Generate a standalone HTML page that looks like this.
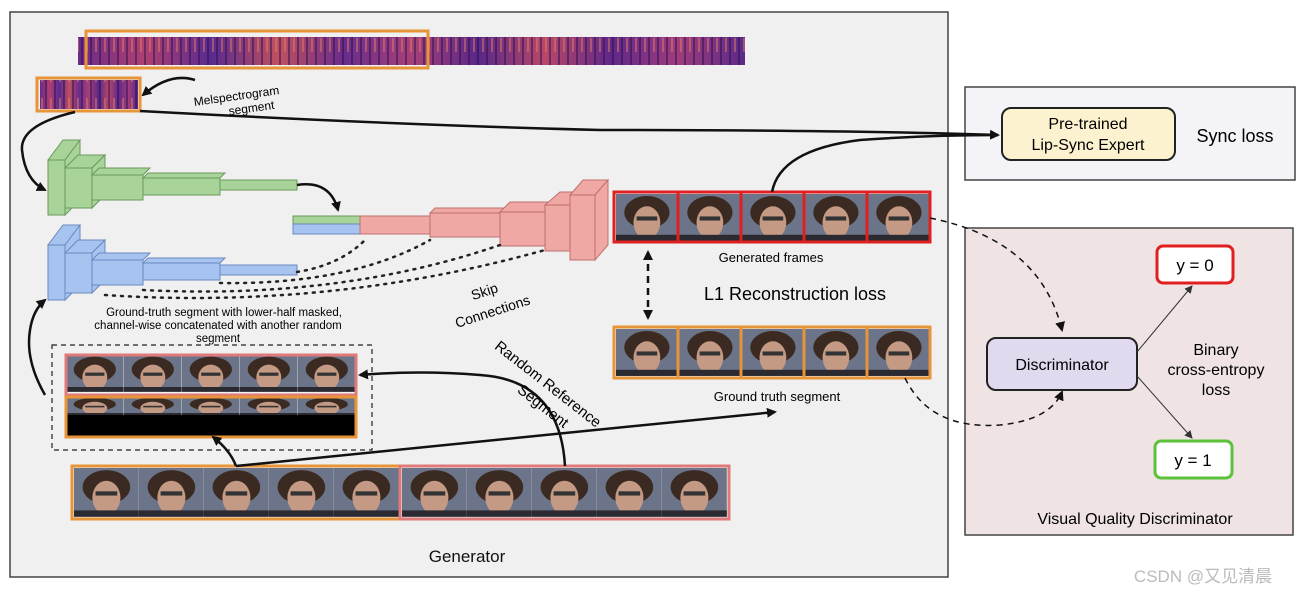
<!DOCTYPE html>
<html><head><meta charset="utf-8"><style>
body{margin:0;background:#fff;}
svg{display:block;font-family:"Liberation Sans",sans-serif;}
</style></head><body>
<svg width="1307" height="597" viewBox="0 0 1307 597" xmlns="http://www.w3.org/2000/svg">
<defs>
<linearGradient id="mel" x1="0" x2="1" y1="0" y2="0">
<stop offset="0" stop-color="#6a2a8a"/><stop offset="0.1" stop-color="#b04070"/><stop offset="0.2" stop-color="#5a2a90"/><stop offset="0.3" stop-color="#c05060"/><stop offset="0.4" stop-color="#6a2c8c"/><stop offset="0.5" stop-color="#a84078"/><stop offset="0.6" stop-color="#5a2888"/><stop offset="0.7" stop-color="#b84868"/><stop offset="0.8" stop-color="#60288a"/><stop offset="0.9" stop-color="#a03c7c"/><stop offset="1" stop-color="#5a2a8a"/>
</linearGradient>
<pattern id="stripes" width="9" height="30" patternUnits="userSpaceOnUse">
<rect x="0" y="0" width="2" height="30" fill="#2a1050" opacity="0.5"/><rect x="5" y="8" width="2" height="14" fill="#e08060" opacity="0.5"/>
</pattern>
<g id="face">
<rect width="60" height="46" fill="#6b7488"/>
<ellipse cx="30" cy="18" rx="22" ry="16" fill="#3b2a22"/>
<ellipse cx="30" cy="28" rx="13" ry="16" fill="#c49a84"/>
<rect x="20" y="22" width="20" height="4" fill="#333"/>
<rect x="0" y="40" width="60" height="6" fill="#2a2a30"/>
</g>
<marker id="ah" markerWidth="10" markerHeight="10" refX="8" refY="5" orient="auto" markerUnits="userSpaceOnUse"><path d="M0,0 L10,5 L0,10 z" fill="#111"/></marker>
<marker id="ahs" markerWidth="8" markerHeight="8" refX="7" refY="4" orient="auto" markerUnits="userSpaceOnUse"><path d="M0,0 L8,4 L0,8 z" fill="#333"/></marker>
<marker id="ahb" markerWidth="10" markerHeight="10" refX="2" refY="5" orient="auto" markerUnits="userSpaceOnUse"><path d="M10,0 L0,5 L10,10 z" fill="#111"/></marker>
</defs>

<!-- panels -->
<rect x="10" y="12" width="938" height="565" fill="#f0f0f0" stroke="#444" stroke-width="1.5"/>
<rect x="965" y="87" width="330" height="93" fill="#f3f3f8" stroke="#444" stroke-width="1.5"/>
<rect x="965" y="228" width="328" height="307" fill="#efe3e3" stroke="#444" stroke-width="1.5"/>

<!-- mel -->
<rect x="78" y="37" width="667" height="28" fill="url(#mel)"/>
<rect x="78" y="37" width="667" height="28" fill="url(#stripes)"/>
<rect x="86" y="31" width="342" height="37" fill="none" stroke="#e8953a" stroke-width="3"/>
<rect x="40" y="80" width="98" height="29" fill="url(#mel)"/>
<rect x="40" y="80" width="98" height="29" fill="url(#stripes)"/>
<rect x="37" y="78" width="103" height="33" fill="none" stroke="#e8953a" stroke-width="3"/>
<path d="M195,80 Q170,72 143,95" fill="none" stroke="#111" stroke-width="2.5" marker-end="url(#ah)"/>
<text x="237" y="100" font-size="12" text-anchor="middle" transform="rotate(-8 237 100)">Melspectrogram</text>
<text x="252" y="112" font-size="12" text-anchor="middle" transform="rotate(-8 252 112)">segment</text>
<path d="M140,111 Q400,125 600,130 Q850,130 998,135" fill="none" stroke="#111" stroke-width="2.5" marker-end="url(#ah)"/>
<path d="M75,112 Q20,125 22,150 Q25,180 45,190" fill="none" stroke="#111" stroke-width="2.5" marker-end="url(#ah)"/>

<!-- green encoder -->
<g fill="#a8d49a" stroke="#6a9a5a" stroke-width="1">
<polygon points="48,160 65,160 80,140 63,140"/><polygon points="65,160 80,140 80,200 65,215"/><rect x="48" y="160" width="17" height="55"/>
<polygon points="65,168 92,168 105,155 78,155"/><polygon points="92,168 105,155 105,195 92,208"/><rect x="65" y="168" width="27" height="40"/>
<polygon points="92,175 143,175 150,168 99,168"/><rect x="92" y="175" width="51" height="25"/>
<polygon points="143,178 220,178 225,173 148,173"/><rect x="143" y="178" width="77" height="17"/>
<rect x="220" y="180" width="77" height="10"/>
</g>
<g fill="#a7c4f0" stroke="#6a88c0" stroke-width="1">
<polygon points="48,245 65,245 80,225 63,225"/><polygon points="65,245 80,225 80,285 65,300"/><rect x="48" y="245" width="17" height="55"/>
<polygon points="65,253 92,253 105,240 78,240"/><polygon points="92,253 105,240 105,280 92,293"/><rect x="65" y="253" width="27" height="40"/>
<polygon points="92,260 143,260 150,253 99,253"/><rect x="92" y="260" width="51" height="25"/>
<polygon points="143,263 220,263 225,258 148,258"/><rect x="143" y="263" width="77" height="17"/>
<rect x="220" y="265" width="77" height="10"/>
</g>
<!-- decoder -->
<rect x="293" y="216" width="67" height="8" fill="#a8d49a" stroke="#6a9a5a"/>
<rect x="293" y="224" width="67" height="10" fill="#a7c4f0" stroke="#6a88c0"/>
<g fill="#f0a8a4" stroke="#c07070" stroke-width="1">
<rect x="360" y="216" width="70" height="18"/>
<polygon points="430,213 500,213 505,208 435,208"/><rect x="430" y="213" width="70" height="24"/>
<polygon points="500,212 545,212 555,202 510,202"/><polygon points="545,212 555,202 555,236 545,246"/><rect x="500" y="212" width="45" height="34"/>
<polygon points="545,205 570,205 585,192 560,192"/><polygon points="570,205 585,192 585,238 570,251"/><rect x="545" y="205" width="25" height="46"/>
<polygon points="570,195 595,195 608,180 583,180"/><polygon points="595,195 608,180 608,245 595,260"/><rect x="570" y="195" width="25" height="65"/>
</g>
<path d="M297,185 Q330,180 338,210" fill="none" stroke="#111" stroke-width="2.5" marker-end="url(#ah)"/>
<g fill="none" stroke="#222" stroke-width="2.5" stroke-dasharray="2,6" stroke-linecap="round">
<path d="M297,272 Q340,265 365,240"/><path d="M220,283 Q350,285 430,240"/><path d="M143,290 Q340,300 500,245"/><path d="M105,295 Q330,310 545,250"/>
</g>
<text x="486" y="296" font-size="14" text-anchor="middle" transform="rotate(-18 486 296)">Skip</text>
<text x="494" y="316" font-size="14" text-anchor="middle" transform="rotate(-18 494 316)">Connections</text>
<text x="224" y="316" font-size="11.5" text-anchor="middle">Ground-truth segment with lower-half masked,</text>
<text x="218" y="329" font-size="11.5" text-anchor="middle">channel-wise concatenated with another random</text>
<text x="218" y="342" font-size="11.5" text-anchor="middle">segment</text>

<!-- dashed box -->
<rect x="52" y="345" width="320" height="105" fill="none" stroke="#222" stroke-width="1.2" stroke-dasharray="5,4"/>
<g>
<use href="#face" transform="translate(66,355) scale(0.96,0.8)"/><use href="#face" transform="translate(124,355) scale(0.96,0.8)"/><use href="#face" transform="translate(182,355) scale(0.96,0.8)"/><use href="#face" transform="translate(240,355) scale(0.96,0.8)"/><use href="#face" transform="translate(298,355) scale(0.96,0.8)"/>
</g>
<rect x="66" y="355" width="290" height="40" fill="none" stroke="#e07a7a" stroke-width="3"/>
<g>
<use href="#face" transform="translate(66,397) scale(0.96,0.4)"/><use href="#face" transform="translate(124,397) scale(0.96,0.4)"/><use href="#face" transform="translate(182,397) scale(0.96,0.4)"/><use href="#face" transform="translate(240,397) scale(0.96,0.4)"/><use href="#face" transform="translate(298,397) scale(0.96,0.4)"/>
</g>
<rect x="66" y="415" width="290" height="22" fill="#000"/>
<rect x="66" y="397" width="290" height="40" fill="none" stroke="#e8953a" stroke-width="3"/>
<path d="M45,395 Q25,360 30,330 Q33,310 45,300" fill="none" stroke="#111" stroke-width="2.5" marker-end="url(#ah)"/>

<!-- bottom frames -->
<g>
<use href="#face" transform="translate(74,468) scale(1.08,1.06)"/><use href="#face" transform="translate(139,468) scale(1.08,1.06)"/><use href="#face" transform="translate(204,468) scale(1.08,1.06)"/><use href="#face" transform="translate(269,468) scale(1.08,1.06)"/><use href="#face" transform="translate(334,468) scale(1.08,1.06)"/>
<use href="#face" transform="translate(402,468) scale(1.08,1.06)"/><use href="#face" transform="translate(467,468) scale(1.08,1.06)"/><use href="#face" transform="translate(532,468) scale(1.08,1.06)"/><use href="#face" transform="translate(597,468) scale(1.08,1.06)"/><use href="#face" transform="translate(662,468) scale(1.08,1.06)"/>
</g>
<rect x="72" y="466" width="328" height="53" fill="none" stroke="#e8953a" stroke-width="3"/>
<rect x="400" y="466" width="329" height="53" fill="none" stroke="#e07a7a" stroke-width="3"/>
<path d="M236,466 Q230,450 213,437" fill="none" stroke="#111" stroke-width="2.5" marker-end="url(#ah)"/>
<path d="M236,466 Q500,440 775,412" fill="none" stroke="#111" stroke-width="2.5" marker-end="url(#ah)"/>
<path d="M565,466 Q560,380 480,375 Q420,370 360,375" fill="none" stroke="#111" stroke-width="2.5" marker-end="url(#ah)"/>
<text x="545" y="388" font-size="15" text-anchor="middle" transform="rotate(38 545 388)">Random Reference</text>
<text x="540" y="410" font-size="15" text-anchor="middle" transform="rotate(38 540 410)">Segment</text>
<text x="467" y="562" font-size="17" text-anchor="middle" fill="#111">Generator</text>

<!-- generated frames -->
<g>
<use href="#face" transform="translate(616,194) scale(1.03,1.02)"/><use href="#face" transform="translate(679,194) scale(1.03,1.02)"/><use href="#face" transform="translate(742,194) scale(1.03,1.02)"/><use href="#face" transform="translate(805,194) scale(1.03,1.02)"/><use href="#face" transform="translate(868,194) scale(1.03,1.02)"/>
</g>
<g fill="none" stroke="#e02020" stroke-width="3"><rect x="614" y="192" width="316" height="50"/><line x1="678" y1="192" x2="678" y2="242"/><line x1="741" y1="192" x2="741" y2="242"/><line x1="804" y1="192" x2="804" y2="242"/><line x1="867" y1="192" x2="867" y2="242"/></g>
<text x="771" y="262" font-size="13" text-anchor="middle">Generated frames</text>
<text x="795" y="300" font-size="18" text-anchor="middle">L1 Reconstruction loss</text>
<g>
<use href="#face" transform="translate(616,329) scale(1.03,1.02)"/><use href="#face" transform="translate(679,329) scale(1.03,1.02)"/><use href="#face" transform="translate(742,329) scale(1.03,1.02)"/><use href="#face" transform="translate(805,329) scale(1.03,1.02)"/><use href="#face" transform="translate(868,329) scale(1.03,1.02)"/>
</g>
<g fill="none" stroke="#e8953a" stroke-width="3"><rect x="614" y="327" width="316" height="51"/><line x1="678" y1="327" x2="678" y2="378"/><line x1="741" y1="327" x2="741" y2="378"/><line x1="804" y1="327" x2="804" y2="378"/><line x1="867" y1="327" x2="867" y2="378"/></g>
<text x="777" y="401" font-size="13" text-anchor="middle">Ground truth segment</text>
<line x1="648" y1="252" x2="648" y2="318" stroke="#111" stroke-width="2.5" stroke-dasharray="7,5" marker-end="url(#ah)" marker-start="url(#ahb)"/>
<path d="M772,192 Q780,150 860,140 Q930,135 998,135" fill="none" stroke="#111" stroke-width="2.5"/>
<path d="M930,218 Q1040,240 1062,330" fill="none" stroke="#111" stroke-width="1.5" stroke-dasharray="6,5" marker-end="url(#ah)"/>
<path d="M905,378 Q930,430 1000,425 Q1050,420 1062,392" fill="none" stroke="#111" stroke-width="1.5" stroke-dasharray="6,5" marker-end="url(#ah)"/>

<!-- sync content -->
<rect x="1002" y="108" width="173" height="52" rx="9" fill="#fdf2cf" stroke="#222" stroke-width="2"/>
<text x="1088" y="129" font-size="16" text-anchor="middle">Pre-trained</text>
<text x="1088" y="150" font-size="16" text-anchor="middle">Lip-Sync Expert</text>
<text x="1235" y="142" font-size="18" text-anchor="middle">Sync loss</text>

<!-- discriminator content -->
<rect x="987" y="338" width="150" height="52" rx="9" fill="#e1d9ee" stroke="#222" stroke-width="2"/>
<text x="1062" y="370" font-size="16" text-anchor="middle">Discriminator</text>
<rect x="1157" y="246" width="76" height="37" rx="6" fill="#fff" stroke="#e02020" stroke-width="3"/>
<text x="1195" y="271" font-size="17" text-anchor="middle">y = 0</text>
<rect x="1155" y="441" width="77" height="37" rx="6" fill="#fff" stroke="#5bc23a" stroke-width="3"/>
<text x="1193" y="466" font-size="17" text-anchor="middle">y = 1</text>
<line x1="1137" y1="352" x2="1192" y2="286" stroke="#333" stroke-width="1" marker-end="url(#ahs)"/>
<line x1="1137" y1="376" x2="1192" y2="438" stroke="#333" stroke-width="1" marker-end="url(#ahs)"/>
<text x="1216" y="355" font-size="16" text-anchor="middle">Binary</text>
<text x="1216" y="375" font-size="16" text-anchor="middle">cross-entropy</text>
<text x="1216" y="395" font-size="16" text-anchor="middle">loss</text>
<text x="1135" y="524" font-size="16" text-anchor="middle">Visual Quality Discriminator</text>

<text x="1203" y="582" font-size="17" fill="#bbb" text-anchor="middle" font-family="Liberation Sans,'Noto Sans CJK SC',sans-serif">CSDN @又见清晨</text>
</svg>
</body></html>
